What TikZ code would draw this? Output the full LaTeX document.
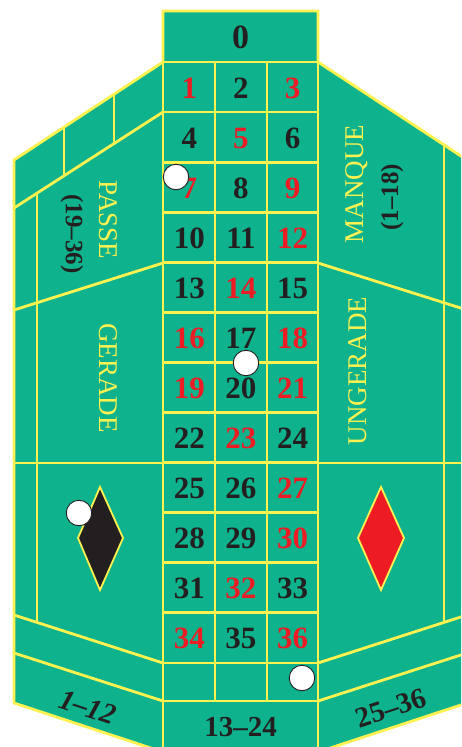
\documentclass[tikz,border=0pt]{standalone}
\usepackage{fontspec}
\setmainfont{Liberation Serif}
\definecolor{felt}{RGB}{14,179,141}
\definecolor{gold}{RGB}{255,242,80}
\definecolor{rred}{RGB}{237,28,36}
\definecolor{ink}{RGB}{35,31,32}
\begin{document}
\begin{tikzpicture}[x=1pt,y=-1pt,line join=miter,
  ln/.style={draw=gold,line width=2.8pt},
  num/.style={font=\fontsize{31}{31}\selectfont\bfseries,text=ink,inner sep=0pt},
  rnum/.style={num,text=rred},
  lab/.style={font=\fontsize{27}{27}\selectfont,text=gold,inner sep=0pt},
  blab/.style={font=\fontsize{25}{25}\selectfont\bfseries,text=ink,inner sep=0pt},
  chip/.style={circle,draw=ink,fill=white,line width=0.9pt,minimum size=25.5pt,inner sep=0pt},
  dia/.style={draw=gold,line width=1.8pt}]
\useasboundingbox (0,0) rectangle (461,747);
\clip (0,0) rectangle (461,747);
% table felt
\fill[felt] (163,11) -- (318,11) -- (318,62) -- (467,160) -- (467,703) -- (318,752) -- (163,752) -- (14,703) -- (14,160) -- (163,62) -- cycle;
% grid
\foreach \k in {0,...,12} \draw[ln] (163,{62+50.08*\k}) -- (318,{62+50.08*\k});
\draw[ln] (163,701) -- (318,701);
\draw[ln] (215,62) -- (215,701);
\draw[ln] (267,62) -- (267,701);
\draw[ln] (163,11) -- (163,752);
\draw[ln] (318,11) -- (318,752);
% left side
\draw[ln] (163,112) -- (14,208);
\draw[ln] (64,127.1) -- (64,175.8);
\draw[ln] (114,94.2) -- (114,143.6);
\draw[ln] (37,193.2) -- (37,622.4);
\draw[ln] (163,263) -- (14,310);
\draw[ln] (14,463) -- (163,463);
\draw[ln] (14,615) -- (163,663);
\draw[ln] (14,653) -- (163,701);
% right side
\draw[ln] (444,145.6) -- (444,622.4);
\draw[ln] (318,263) -- (467,310);
\draw[ln] (318,463) -- (467,463);
\draw[ln] (318,663) -- (467,615);
\draw[ln] (318,701) -- (467,653);
% outline
\draw[ln] (163,11) -- (318,11) -- (318,62) -- (467,160) -- (467,703) -- (318,752) -- (163,752) -- (14,703) -- (14,160) -- (163,62) -- cycle;
% numbers
\node[num,font=\fontsize{34}{34}\selectfont\bfseries] (n0) at (240.5,37) {0};
\foreach \n/\s in {1/rnum,2/num,3/rnum,4/num,5/rnum,6/num,7/rnum,8/num,9/rnum,10/num,11/num,12/rnum,13/num,14/rnum,15/num,16/rnum,17/num,18/rnum,19/rnum,20/num,21/rnum,22/num,23/rnum,24/num,25/num,26/num,27/rnum,28/num,29/num,30/rnum,31/num,32/rnum,33/num,34/rnum,35/num,36/rnum}{
  \pgfmathtruncatemacro\r{int((\n-1)/3)}
  \pgfmathtruncatemacro\c{mod(\n-1,3)}
  \node[\s] (n\n) at ({189.3+51.67*\c},{88+50.08*\r}) {\n};
}
% side labels
\node[blab,rotate=-90] (l1936) at (72,234) {(19\textendash36)};
\node[lab,rotate=-90] (passe) at (108,220) {PASSE};
\node[lab,rotate=-90] (gerade) at (108,378) {GERADE};
\node[lab,rotate=90] (manque) at (357,184) {MANQUE};
\node[blab,rotate=90] (l118) at (392,197) {(1\textendash18)};
\node[lab,rotate=90] (ungerade) at (358,371) {UNGERADE};
% dozens
\node[num,font=\fontsize{29}{29}\selectfont\bfseries\itshape,rotate=-18.3] (d1) at (88,707) {1\textendash12};
\node[num,font=\fontsize{29}{29}\selectfont\bfseries] (d2) at (240.5,727) {13\textendash24};
\node[num,font=\fontsize{29}{29}\selectfont\bfseries,rotate=18.3] (d3) at (391,708) {25\textendash36};
% diamonds
\draw[dia,fill=ink] (100,487) -- (123,538) -- (100,590) -- (78,538) -- cycle;
\draw[dia,fill=rred] (381,487) -- (404,538) -- (381,590) -- (358,538) -- cycle;
% chips
\node[chip] (c1) at (176,177) {};
\node[chip] (c2) at (246,363) {};
\node[chip] (c3) at (79,513) {};
\node[chip] (c4) at (302,678) {};
\end{tikzpicture}
\end{document}
